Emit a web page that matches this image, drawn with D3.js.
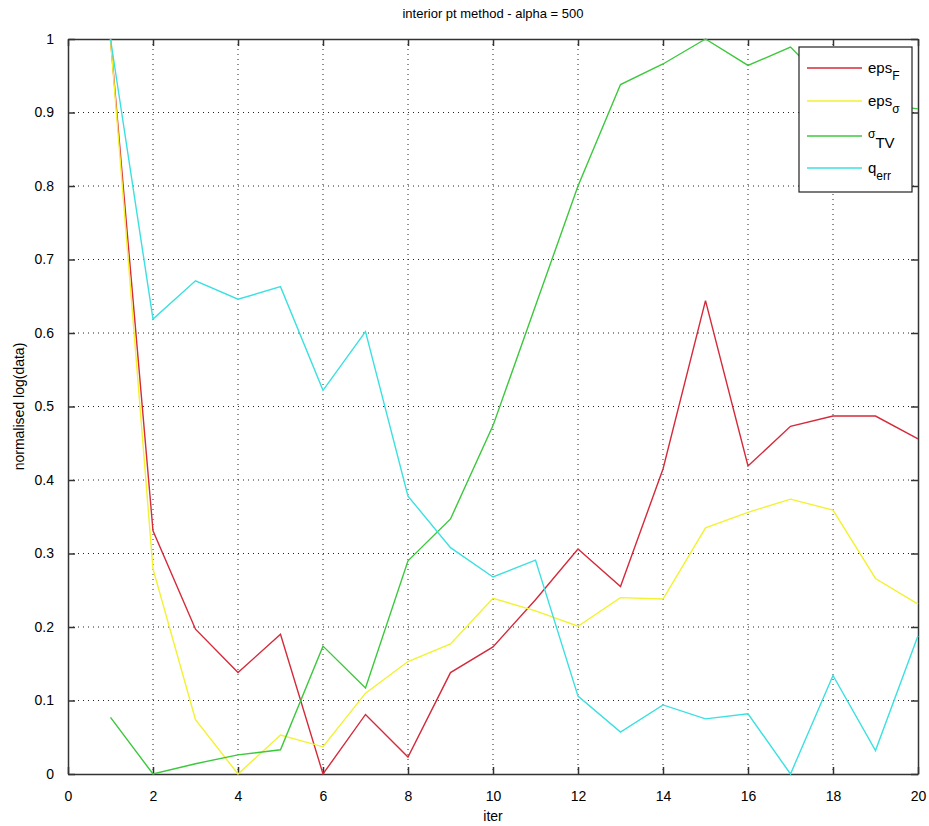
<!DOCTYPE html>
<html>
<head>
<meta charset="utf-8">
<script src="https://cdn.jsdelivr.net/npm/d3@7"></script>
<style>
  body { margin: 0; background: #fff; }
  text { font-family: "Liberation Sans", Arial, sans-serif; fill: #000; }
</style>
</head>
<body>
<div id="chart"></div>
<script>
const iters = d3.range(1, 21);

const epsF = [1.0, 0.331, 0.197, 0.138, 0.19, 0.0, 0.081, 0.023, 0.138, 0.173,
              0.237, 0.306, 0.255, 0.415, 0.644, 0.419, 0.473, 0.487, 0.487, 0.456];
const epsSigma = [1.0, 0.279, 0.074, 0.0, 0.053, 0.037, 0.11, 0.153, 0.177, 0.239,
                  0.222, 0.201, 0.24, 0.238, 0.335, 0.356, 0.374, 0.359, 0.266, 0.231];
const sigmaTV = [0.077, 0.0, 0.014, 0.026, 0.033, 0.174, 0.117, 0.29, 0.347, 0.474,
                 0.637, 0.8, 0.938, 0.966, 1.0, 0.964, 0.989, 0.93, 0.912, 0.905];
const qErr = [1.0, 0.619, 0.671, 0.646, 0.663, 0.522, 0.602, 0.378, 0.308, 0.268,
              0.291, 0.106, 0.057, 0.094, 0.075, 0.082, 0.0, 0.134, 0.032, 0.188];

const xTicks = d3.range(0, 21, 2);
const yTicks = d3.range(0, 11).map(d => d / 10);

const series = [
  { main: "eps", sub: "F", values: epsF, color: "#d42a3a" },
  { main: "eps", sub: "σ", values: epsSigma, color: "#f2f230" },
  { main: "σ", sub: "TV", values: sigmaTV, color: "#3cc83c", subFirst: true },
  { main: "q", sub: "err", values: qErr, color: "#3ce0e0" }
];

const width = 929, height = 826;
const margin = { top: 39, right: 11, bottom: 52, left: 68 };
const iw = width - margin.left - margin.right;
const ih = height - margin.top - margin.bottom;

const svg = d3.select("#chart")
    .append("svg")
    .attr("width", width)
    .attr("height", height);

const g = svg.append("g")
    .attr("transform", `translate(${margin.left},${margin.top})`);

const x = d3.scaleLinear().domain([0, 20]).range([0, iw]);
const y = d3.scaleLinear().domain([0, 1]).range([ih, 0]);

// grid
g.append("g")
    .selectAll("line")
    .data(xTicks.slice(1, -1))
    .join("line")
    .attr("x1", d => x(d)).attr("x2", d => x(d))
    .attr("y1", 0).attr("y2", ih)
    .attr("stroke", "#222")
    .attr("stroke-width", 1)
    .attr("stroke-dasharray", "1,4");

g.append("g")
    .selectAll("line")
    .data(yTicks.slice(1, -1))
    .join("line")
    .attr("x1", 0).attr("x2", iw)
    .attr("y1", d => y(d)).attr("y2", d => y(d))
    .attr("stroke", "#222")
    .attr("stroke-width", 1)
    .attr("stroke-dasharray", "1,4");

// axes, ticks inward
const xAxis = g.append("g")
    .attr("transform", `translate(0,${ih})`)
    .call(d3.axisBottom(x).tickValues(xTicks).tickSizeInner(-7).tickSizeOuter(0).tickPadding(17));
const yAxis = g.append("g")
    .call(d3.axisLeft(y).tickValues(yTicks).tickFormat(d3.format("~g")).tickSizeInner(-7).tickSizeOuter(0).tickPadding(14));
const xTop = g.append("g")
    .call(d3.axisTop(x).tickValues(xTicks).tickSizeInner(-7).tickSizeOuter(0).tickFormat(""));
const yRight = g.append("g")
    .attr("transform", `translate(${iw},0)`)
    .call(d3.axisRight(y).tickValues(yTicks).tickSizeInner(-7).tickSizeOuter(0).tickFormat(""));

[xAxis, yAxis, xTop, yRight].forEach(a => {
  a.select(".domain").attr("stroke", "#333").attr("stroke-width", 1.5);
  a.selectAll(".tick line").attr("stroke", "#333").attr("stroke-width", 1.5);
  a.selectAll("text").style("font-size", "14px").style("font-family", "Liberation Sans, Arial, sans-serif");
});

// lines
const line = d3.line()
    .x((d, i) => x(iters[i]))
    .y(d => y(d));

series.forEach(s => {
  g.append("path")
      .datum(s.values)
      .attr("fill", "none")
      .attr("stroke", s.color)
      .attr("stroke-width", 1.4)
      .attr("d", line);
});

// legend
const legend = svg.append("g").attr("transform", "translate(799,47)");
legend.append("rect")
    .attr("width", 113).attr("height", 145)
    .attr("fill", "#fff")
    .attr("stroke", "#222")
    .attr("stroke-width", 1.2);

const legendY = [21, 54, 89, 121];
series.forEach((s, i) => {
  legend.append("line")
      .attr("x1", 8).attr("x2", 63)
      .attr("y1", legendY[i]).attr("y2", legendY[i])
      .attr("stroke", s.color)
      .attr("stroke-width", 1.4);
  const t = legend.append("text")
      .attr("x", 69)
      .attr("y", legendY[i] + 5)
      .style("font-size", "15px");
  if (s.subFirst) {
    t.append("tspan").text(s.main).style("font-size", "12px").attr("dy", -3);
    t.append("tspan").text(s.sub).attr("dy", 10);
  } else {
    t.append("tspan").text(s.main);
    t.append("tspan").text(s.sub).style("font-size", "12px").attr("dy", 7);
  }
});

// title and labels
svg.append("text")
    .attr("x", margin.left + iw / 2)
    .attr("y", 18)
    .attr("text-anchor", "middle")
    .style("font-size", "13px")
    .text("interior pt method - alpha = 500");

svg.append("text")
    .attr("x", margin.left + iw / 2)
    .attr("y", 821)
    .attr("text-anchor", "middle")
    .style("font-size", "14px")
    .text("iter");

svg.append("text")
    .attr("transform", `translate(24,${margin.top + ih / 2}) rotate(-90)`)
    .attr("text-anchor", "middle")
    .style("font-size", "14px")
    .text("normalised log(data)");
</script>
</body>
</html>
